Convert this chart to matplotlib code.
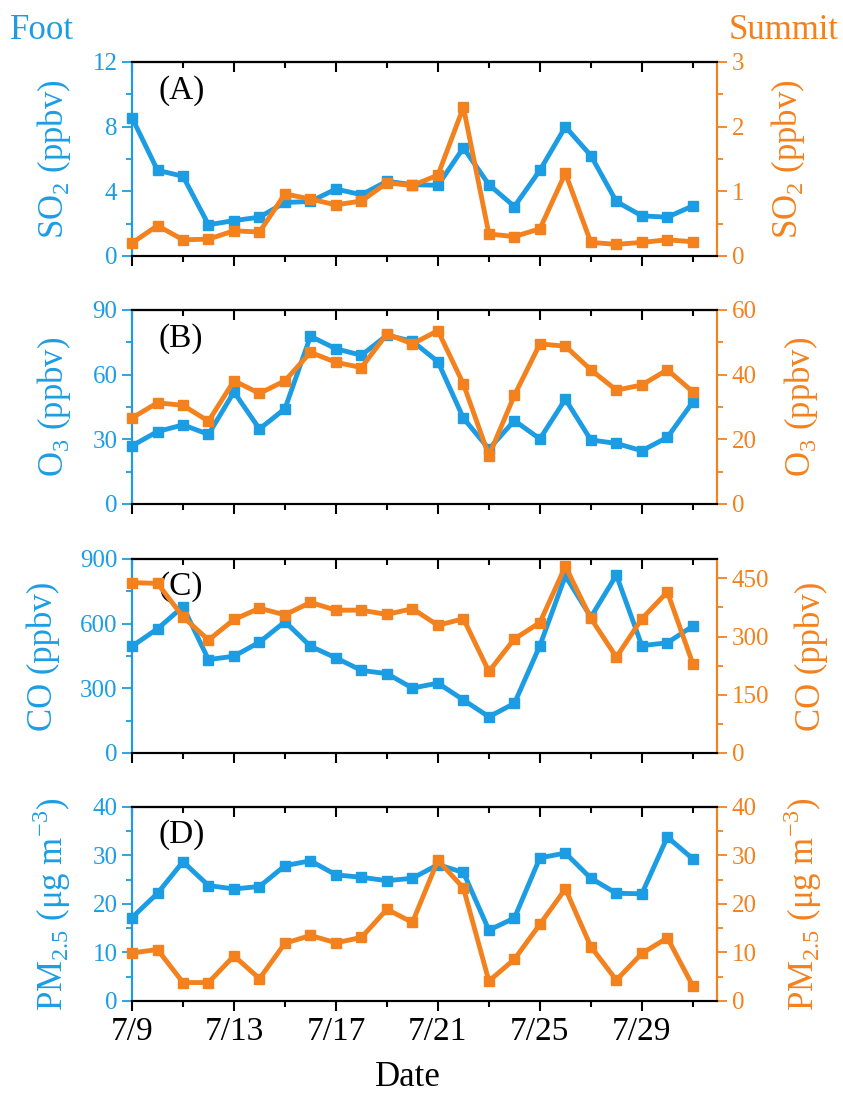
import numpy as np
import matplotlib.pyplot as plt
from matplotlib.ticker import MultipleLocator

plt.rcParams['font.family'] = ['Liberation Serif', 'DejaVu Serif']
plt.rcParams['mathtext.fontset'] = 'custom'
plt.rcParams['mathtext.rm'] = 'Liberation Serif'

# ---- data ----
dates = ['7/9', '7/10', '7/11', '7/12', '7/13', '7/14', '7/15', '7/16',
         '7/17', '7/18', '7/19', '7/20', '7/21', '7/22', '7/23', '7/24',
         '7/25', '7/26', '7/27', '7/28', '7/29', '7/30', '7/31']

so2_foot = [8.55, 5.3, 4.93, 1.93, 2.19, 2.4, 3.31, 3.37, 4.14, 3.79, 4.62, 4.41,
            4.37, 6.69, 4.41, 3.06, 5.3, 7.99, 6.21, 3.37, 2.48, 2.4, 3.1]
so2_summit = [0.2, 0.47, 0.25, 0.26, 0.39, 0.37, 0.96, 0.88, 0.79, 0.85, 1.13, 1.09,
              1.25, 2.3, 0.34, 0.3, 0.42, 1.28, 0.21, 0.18, 0.21, 0.25, 0.22]

o3_foot = [27, 33.6, 36.7, 32.3, 52, 34.8, 44.2, 77.8, 72, 69, 78.3, 75.5,
           66, 39.8, 25.5, 38.7, 30.2, 48.6, 29.7, 28.1, 24.7, 30.9, 47.3]
o3_summit = [26.6, 31.3, 30.5, 25.6, 38.1, 34.2, 38.1, 46.9, 43.8, 42.2, 52.6, 49.5,
             53.6, 37.1, 14.9, 33.6, 49.5, 48.8, 41.5, 35.2, 36.8, 41.5, 34.7]

co_foot = [495, 576, 679, 433, 449, 514, 609, 495, 441, 383, 368, 301,
           324, 246, 168, 230, 498, 822, 630, 825, 498, 511, 589]
co_summit = [439, 437, 351, 291, 344, 373, 356, 388, 368, 368, 357, 372,
             329, 346, 210, 294, 336, 481, 347, 247, 346, 415, 230]

pm_foot = [17.2, 22.2, 28.7, 23.8, 23.1, 23.6, 27.9, 28.9, 26, 25.5, 24.8, 25.3,
           28.1, 26.5, 14.6, 17.1, 29.5, 30.5, 25.3, 22.2, 22.1, 33.8, 29.3]
pm_summit = [9.9, 10.6, 3.8, 3.8, 9.3, 4.6, 11.9, 13.5, 12, 13.1, 18.9, 16.2,
             29, 23.3, 4.1, 8.6, 15.8, 23.1, 11.2, 4.3, 9.8, 13, 3.1]

BLUE = '#1C9DE3'
ORANGE = '#F3811E'

panels = [
    ('(A)', so2_foot, so2_summit, r'SO$_2$ (ppbv)', (12, 4), (3, 1)),
    ('(B)', o3_foot, o3_summit, r'O$_3$ (ppbv)', (90, 30), (60, 20)),
    ('(C)', co_foot, co_summit, 'CO (ppbv)', (900, 300), (500, 150)),
    ('(D)', pm_foot, pm_summit, r'PM$_{2.5}$ ($\mathrm{\mu}$g m$^{\mathrm{-3}}$)', (40, 10), (40, 10)),
]

x = np.arange(len(dates))
fig = plt.figure(figsize=(8.43, 10.93), dpi=100)

bottoms = [0.7658, 0.5389, 0.3111, 0.0842]
for i, (tag, foot, summit, label, lrng, rrng) in enumerate(panels):
    ax = fig.add_axes([0.1566, bottoms[i], 0.694, 0.1775])
    ax2 = ax.twinx()

    ax.plot(x, foot, color=BLUE, lw=3.5, marker='s', ms=7, mec=BLUE, clip_on=False, zorder=3)
    ax2.plot(x, summit, color=ORANGE, lw=3.5, marker='s', ms=7, mec=ORANGE, clip_on=False, zorder=3)

    ax.set_xlim(0, 22.95)
    ax.set_ylim(0, lrng[0])
    ax2.set_ylim(0, rrng[0])
    ax.yaxis.set_major_locator(MultipleLocator(lrng[1]))
    ax.yaxis.set_minor_locator(MultipleLocator(lrng[1] / 2))
    ax2.yaxis.set_major_locator(MultipleLocator(rrng[1]))
    ax2.yaxis.set_minor_locator(MultipleLocator(rrng[1] / 2))
    ax.set_xticks(x[::4])
    ax.set_xticks(x[2::4], minor=True)
    ax.set_xticklabels(dates[::4] if i == 3 else [])

    for a in (ax, ax2):
        for s in a.spines.values():
            s.set_linewidth(1.5)
        a.spines['left'].set_color(BLUE)
        a.spines['right'].set_color(ORANGE)
        a.spines['top'].set_color('black')
        a.spines['bottom'].set_color('black')

    ax.tick_params(axis='y', which='both', direction='out', colors=BLUE, labelsize=18, width=1.3)
    ax.tick_params(axis='y', which='major', length=7)
    ax.tick_params(axis='y', which='minor', length=4)
    ax2.tick_params(axis='y', which='both', direction='out', colors=ORANGE, labelsize=18, width=1.3)
    ax2.tick_params(axis='y', which='major', length=7)
    ax2.tick_params(axis='y', which='minor', length=4)
    ax.tick_params(axis='x', which='both', direction='out', width=1.5, labelsize=24, pad=4)
    ax.tick_params(axis='x', which='major', length=7)
    ax.tick_params(axis='x', which='minor', length=4)

    # inward ticks along the top spine
    top = ax.secondary_xaxis('top')
    top.set_xticks(x[::4])
    top.set_xticks(x[2::4], minor=True)
    top.tick_params(which='both', direction='in', labeltop=False, width=1.5)
    top.tick_params(which='major', length=7)
    top.tick_params(which='minor', length=4)
    top.spines['top'].set_linewidth(1.5)

    ax.set_ylabel(label, color=BLUE, fontsize=25, labelpad=14)
    ax2.set_ylabel(label, color=ORANGE, fontsize=25, labelpad=18)

    ax.text(0.045, 0.855, tag, transform=ax.transAxes, fontsize=24,
            ha='left', va='center', zorder=5)

fig.text(0.484, 0.014, 'Date', fontsize=25, ha='center', va='center')
fig.text(0.012, 0.972, 'Foot', color=BLUE, fontsize=25, ha='left', va='center')
fig.text(0.995, 0.972, 'Summit', color=ORANGE, fontsize=25, ha='right', va='center')

fig.savefig('out.png', dpi=100)
